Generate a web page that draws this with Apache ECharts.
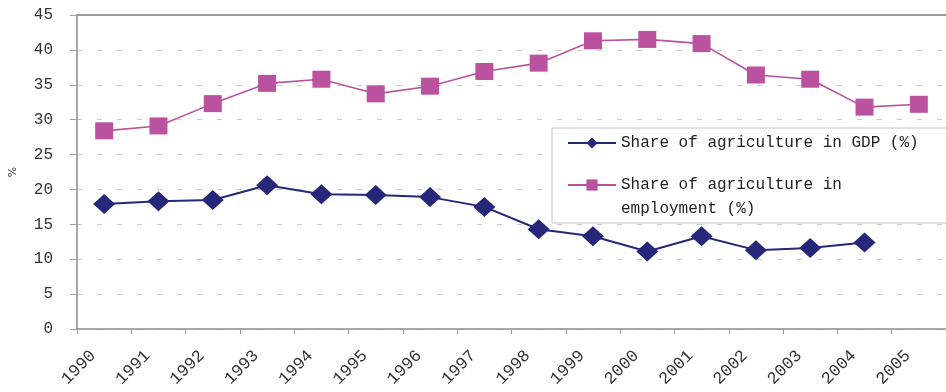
<!DOCTYPE html>
<html>
<head>
<meta charset="utf-8">
<script src="https://cdn.jsdelivr.net/npm/echarts@6/dist/echarts.min.js"></script>
<style>
  html, body { margin: 0; padding: 0; background: #ffffff; }
  #chart { width: 946px; height: 392px; }
</style>
</head>
<body>
<div id="chart"></div>
<script>
// Years on the category axis
const years = ['1990', '1991', '1992', '1993', '1994', '1995', '1996', '1997',
               '1998', '1999', '2000', '2001', '2002', '2003', '2004', '2005'];

// Share of agriculture in GDP (%) – no value for 2005
const gdpShare = [17.9, 18.3, 18.5, 20.6, 19.3, 19.2, 18.9, 17.5,
                  14.3, 13.3, 11.1, 13.3, 11.3, 11.6, 12.4, null];

// Share of agriculture in employment (%)
const employmentShare = [28.4, 29.1, 32.3, 35.2, 35.8, 33.7, 34.8, 36.9,
                         38.1, 41.3, 41.5, 40.9, 36.4, 35.8, 31.8, 32.2];

// Value-axis range
const yMin = 0;
const yMax = 45;
const yStep = 5;

const seriesNames = ['Share of agriculture in GDP (%)', 'Share of agriculture in employment (%)'];
// Legend captions; the blank first line keeps the marker level with the caption's first line
const legendText = {
  'Share of agriculture in GDP (%)': 'Share of agriculture in GDP (%)',
  'Share of agriculture in employment (%)': ' \nShare of agriculture in\nemployment (%)'
};

const NAVY = '#27277a';
const PINK = '#bb52a0';
const AXIS_GREY = '#8c8c8c';
const FONT = '"Liberation Mono", "DejaVu Sans Mono", monospace';

const chart = echarts.init(document.getElementById('chart'), null, { renderer: 'canvas' });

chart.setOption({
  backgroundColor: '#ffffff',
  animation: false,
  grid: {
    left: 74,
    top: 15,
    width: 874,
    bottom: 63,
    show: false,
    containLabel: false
  },
  legend: {
    orient: 'vertical',
    left: 552,
    top: 128,
    padding: [3, 34, 2, 15],
    itemGap: -6,
    itemWidth: 48,
    itemHeight: 14,
    backgroundColor: '#ffffff',
    borderColor: '#c4c4c4',
    borderWidth: 1,
    textStyle: {
      fontFamily: FONT,
      fontSize: 16,
      color: '#222222',
      lineHeight: 24
    },
    formatter: function (name) { return legendText[name]; },
    data: seriesNames
  },
  xAxis: [
    {
      type: 'category',
      data: years,
      boundaryGap: true,
      axisLine: { show: true, lineStyle: { color: AXIS_GREY, width: 1.5 } },
      axisTick: { show: true, length: 5, lineStyle: { color: '#9a9a9a' } },
      // year captions are drawn below, slanted and tucked towards each tick
      axisLabel: { show: false },
      splitLine: { show: false }
    },
    {
      // plain frame line along the top of the plot
      type: 'category',
      data: years,
      position: 'top',
      boundaryGap: true,
      axisLine: { show: true, lineStyle: { color: '#999999', width: 2 } },
      axisTick: { show: false },
      axisLabel: { show: false },
      splitLine: { show: false }
    }
  ],
  yAxis: {
    type: 'value',
    min: yMin,
    max: yMax,
    interval: yStep,
    name: '%',
    nameLocation: 'middle',
    nameRotate: 90,
    nameGap: 58,
    nameTextStyle: { fontFamily: 'DejaVu Sans', fontSize: 11, color: '#333333' },
    axisLine: { show: true, lineStyle: { color: AXIS_GREY, width: 1.5 } },
    axisTick: { show: true, inside: false, length: 7, lineStyle: { color: '#a0a0a0' } },
    axisLabel: {
      margin: 24,
      fontFamily: FONT,
      fontSize: 16,
      color: '#333333'
    },
    splitLine: {
      show: true,
      lineStyle: { color: '#c8c8c8', type: [5, 15], width: 1 }
    }
  },
  series: [
    {
      name: seriesNames[0],
      type: 'line',
      data: gdpShare,
      connectNulls: false,
      symbol: 'diamond',
      symbolSize: [22, 20],
      showAllSymbol: true,
      lineStyle: { color: NAVY, width: 2 },
      itemStyle: { color: NAVY, borderColor: NAVY, borderWidth: 0 },
      z: 3
    },
    {
      name: seriesNames[1],
      type: 'line',
      data: employmentShare,
      symbol: 'rect',
      symbolSize: [18, 17],
      showAllSymbol: true,
      lineStyle: { color: PINK, width: 1.6 },
      itemStyle: { color: PINK, borderColor: PINK, borderWidth: 0 },
      z: 2
    }
  ]
});

// Slanted year captions: each one ends just right of the tick that opens its
// category, positioned through the axis scales.
function placeYearCaptions() {
  const axisY = chart.convertToPixel({ yAxisIndex: 0 }, yMin);
  const captions = years.map(function (year) {
    const centre = chart.convertToPixel({ xAxisIndex: 0 }, year);
    return {
      type: 'text',
      x: centre - 11,
      y: axisY + 24,
      rotation: Math.PI / 4,
      silent: true,
      style: {
        text: year,
        align: 'right',
        verticalAlign: 'middle',
        fontFamily: FONT,
        fontSize: 17,
        fill: '#333333'
      }
    };
  });
  chart.setOption({ graphic: captions });
}
placeYearCaptions();
</script>
</body>
</html>
